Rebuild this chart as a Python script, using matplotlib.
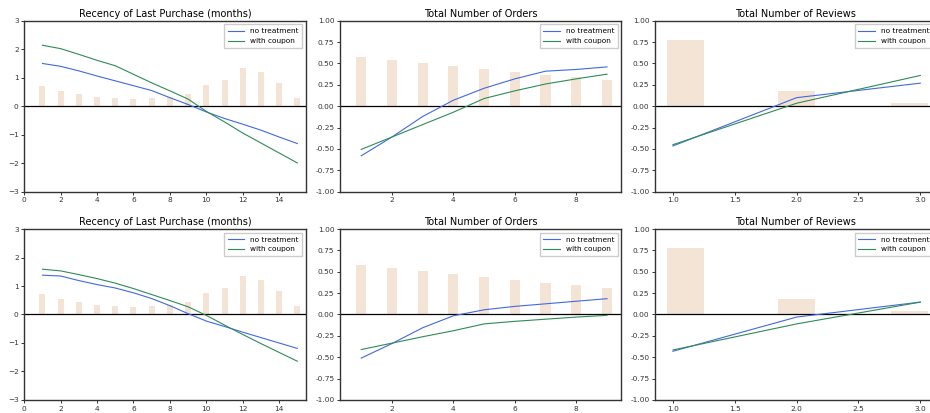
import numpy as np
import matplotlib.pyplot as plt

# recency of last purchase (months)
rec_x = np.arange(1, 16)
rec_bars = [0.71, 0.54, 0.43, 0.33, 0.29, 0.26, 0.29, 0.34, 0.43, 0.75, 0.92, 1.34, 1.20, 0.82, 0.29]
rec_none_top = [1.50, 1.40, 1.24, 1.06, 0.89, 0.72, 0.55, 0.30, 0.06, -0.20, -0.43, -0.63, -0.84, -1.08, -1.31]
rec_coup_top = [2.14, 2.02, 1.82, 1.61, 1.42, 1.12, 0.82, 0.54, 0.25, -0.18, -0.55, -0.94, -1.29, -1.64, -1.99]
rec_none_bot = [1.38, 1.35, 1.19, 1.05, 0.93, 0.76, 0.56, 0.31, 0.03, -0.23, -0.42, -0.62, -0.81, -1.00, -1.19]
rec_coup_bot = [1.59, 1.53, 1.40, 1.26, 1.10, 0.91, 0.70, 0.49, 0.27, -0.03, -0.37, -0.70, -1.02, -1.33, -1.64]

# total number of orders
ord_x = np.arange(1, 10)
ord_bars = [0.575, 0.54, 0.505, 0.47, 0.435, 0.40, 0.365, 0.34, 0.305]
ord_none_top = [-0.58, -0.36, -0.12, 0.07, 0.21, 0.32, 0.41, 0.43, 0.46]
ord_coup_top = [-0.505, -0.36, -0.215, -0.07, 0.09, 0.18, 0.26, 0.32, 0.375]
ord_none_bot = [-0.51, -0.34, -0.155, -0.015, 0.055, 0.095, 0.125, 0.155, 0.185]
ord_coup_bot = [-0.41, -0.335, -0.26, -0.19, -0.11, -0.08, -0.055, -0.03, -0.01]

# total number of reviews
rev_x = [1, 2, 3]
rev_bar_x = [1.1, 2.0, 2.91]
rev_bars = [0.775, 0.18, 0.04]
rev_none_top = [-0.465, 0.10, 0.27]
rev_coup_top = [-0.45, 0.035, 0.36]
rev_none_bot = [-0.43, -0.03, 0.145]
rev_coup_bot = [-0.415, -0.11, 0.145]

blue = '#4169e1'
green = '#2e8b57'
barc = '#f4e4d6'

fig = plt.figure(figsize=(9.3, 4.13), dpi=100)

lefts = [0.0261, 0.3656, 0.7043]
bottoms = [0.5358, 0.0315]
w, h = 0.3026, 0.414


def panel(ax, bx, bars, bw, x, none, coup, title, xlim, ylim):
    ax.bar(bx, bars, width=bw, color=barc, zorder=1)
    ax.axhline(0, color='black', linewidth=0.9, zorder=2)
    ax.plot(x, none, color=blue, linewidth=0.8, label='no treatment', zorder=3)
    ax.plot(x, coup, color=green, linewidth=0.8, label='with coupon', zorder=3)
    ax.set_xlim(*xlim)
    ax.set_ylim(*ylim)
    ax.set_title(title, fontsize=7, pad=3)
    ax.tick_params(labelsize=5.3, length=2.5, width=0.7, pad=1.5, colors='#333333')
    for s in ax.spines.values():
        s.set_linewidth(1.0)
        s.set_color('#333333')
    ax.legend(loc='upper right', fontsize=5.3, handlelength=2.2, borderpad=0.5,
              labelspacing=0.5, fancybox=False, edgecolor='#cccccc', framealpha=1)


data = [
    (rec_none_top, rec_coup_top, ord_none_top, ord_coup_top, rev_none_top, rev_coup_top),
    (rec_none_bot, rec_coup_bot, ord_none_bot, ord_coup_bot, rev_none_bot, rev_coup_bot),
]

ylabels_1 = ['-1.00', '-0.75', '-0.50', '-0.25', '0.00', '0.25', '0.50', '0.75', '1.00']
yticks_1 = np.linspace(-1, 1, 9)

for r, b in enumerate(bottoms):
    rn, rc, on, oc, vn, vc = data[r]
    ax1 = fig.add_axes([lefts[0], b, w, h])
    panel(ax1, rec_x, rec_bars, 0.33, rec_x, rn, rc,
          'Recency of Last Purchase (months)', (0, 15.46), (-3, 3))
    ax1.set_xticks([0, 2, 4, 6, 8, 10, 12, 14])

    ax2 = fig.add_axes([lefts[1], b, w, h])
    panel(ax2, ord_x, ord_bars, 0.33, ord_x, on, oc,
          'Total Number of Orders', (0.31, 9.47), (-1, 1))
    ax2.set_xticks([2, 4, 6, 8])
    ax2.set_yticks(yticks_1)
    ax2.set_yticklabels(ylabels_1)

    ax3 = fig.add_axes([lefts[2], b, w, h])
    panel(ax3, rev_bar_x, rev_bars, 0.3, rev_x, vn, vc,
          'Total Number of Reviews', (0.855, 3.13), (-1, 1))
    ax3.set_xticks([1.0, 1.5, 2.0, 2.5, 3.0])
    ax3.set_yticks(yticks_1)
    ax3.set_yticklabels(ylabels_1)

fig.savefig('out.png', dpi=100)
